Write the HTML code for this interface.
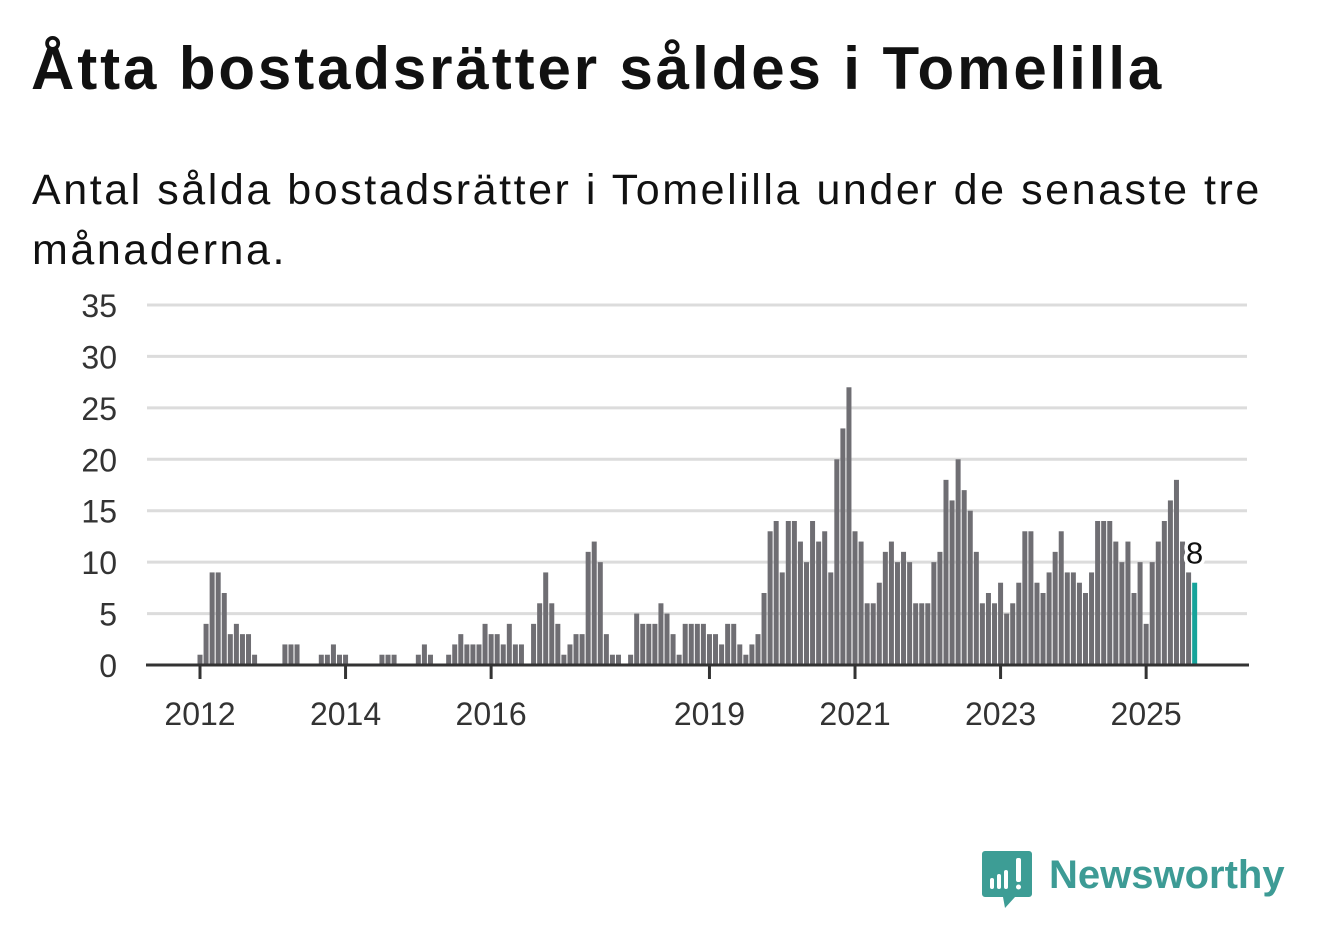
<!DOCTYPE html>
<html><head><meta charset="utf-8"><style>
body{margin:0;background:#fff;width:1322px;height:939px;overflow:hidden;font-family:"Liberation Sans",sans-serif;}
h1{position:absolute;left:31px;top:36px;margin:0;font-size:60px;line-height:66px;font-weight:bold;color:#111;letter-spacing:2.9px;white-space:nowrap}
p{position:absolute;left:32px;top:160px;margin:0;width:1290px;font-size:43px;line-height:60px;color:#111;letter-spacing:2.55px;white-space:nowrap}
svg{position:absolute;left:0;top:0}
</style></head><body>
<h1>Åtta bostadsrätter såldes i Tomelilla</h1>
<p>Antal sålda bostadsrätter i Tomelilla under de senaste tre<br>månaderna.</p>
<svg id="chart" width="1322" height="939"></svg>
<script>
const values=[1,4,9,9,7,3,4,3,3,1,0,0,0,0,2,2,2,0,0,0,1,1,2,1,1,0,0,0,0,0,1,1,1,0,0,0,1,2,1,0,0,
1,2,3,2,2,2,4,3,3,2,4,2,2,0,4,6,9,6,4,1,2,3,3,11,12,10,3,1,1,0,1,5,4,4,4,6,5,3,1,4,4,4,4,3,3,2,4,4,2,1,2,3,7,13,14,9,14,14,12,10,14,12,13,9,20,23,27,13,12,6,6,8,11,12,10,11,10,6,6,6,10,11,18,16,20,17,15,11,6,7,6,8,5,6,8,13,13,8,7,9,11,13,9,9,8,7,9,14,14,14,12,10,12,7,10,4,10,12,14,16,18,12,9,8];
const startYear=2012;
const yTicks=[0,5,10,15,20,25,30,35];
const xTickYears=[2012,2014,2016,2019,2021,2023,2025];
const NS="http://www.w3.org/2000/svg";
const svg=document.getElementById('chart');
const y0=665,pxPerUnit=10.286,x0=200,pxPerMonth=6.065;
const yS=v=>y0-v*pxPerUnit;
const xS=i=>x0+i*pxPerMonth;
function mk(t,a){const e=document.createElementNS(NS,t);for(const k in a)e.setAttribute(k,a[k]);svg.appendChild(e);return e;}
yTicks.forEach(t=>{
  if(t>0){const g=mk('line',{x1:147,x2:1247,y1:yS(t),y2:yS(t),stroke:'#dcdcdc','stroke-width':3});
  
  }
  const l=mk('text',{x:117,y:yS(t)+12,'text-anchor':'end','font-size':32,fill:'#333'});
  l.textContent=t;
  
  
});
values.forEach((v,i)=>{
  const last=i===values.length-1;
  const r=mk('rect',{x:xS(i)-2.5,y:yS(v),width:5,height:v*pxPerUnit,fill:last?'#16a39a':'#6f6e73'});
  
  
});
const ax=mk('line',{x1:146,x2:1249,y1:665,y2:665,stroke:'#333','stroke-width':3});


xTickYears.forEach(yr=>{
  const x=xS((yr-startYear)*12);
  const tk=mk('line',{x1:x,x2:x,y1:665,y2:679,stroke:'#333','stroke-width':3});
  
  
  const l=mk('text',{x:x,y:725,'text-anchor':'middle','font-size':32,fill:'#333'});
  l.textContent=yr;
  
  
});
const li=values.length-1;
const lab=mk('text',{x:xS(li),y:yS(values[li])-19,'text-anchor':'middle','font-size':31,fill:'#111',stroke:'#fff','stroke-width':7,'paint-order':'stroke','stroke-linejoin':'round'});
lab.textContent=values[li];


</script>
<svg width="1322" height="939" style="pointer-events:none">
<path d="M985 851 h44 a3 3 0 0 1 3 3 v40 a3 3 0 0 1 -3 3 h-14 l-10 11 l-2 -11 h-18 a3 3 0 0 1 -3 -3 v-40 a3 3 0 0 1 3 -3z" fill="#3d9d95"/>
<rect x="990" y="878" width="4" height="11" rx="2" fill="#fff"/>
<rect x="997" y="874" width="4" height="15" rx="2" fill="#fff"/>
<rect x="1004" y="870" width="4" height="19" rx="2" fill="#fff"/>
<rect x="1016" y="858" width="5" height="24" rx="2" fill="#fff"/>
<circle cx="1018.5" cy="887" r="2.5" fill="#fff"/>
<text x="1049" y="888" font-size="40" font-weight="bold" fill="#3d9b95" font-family="Liberation Sans, sans-serif">Newsworthy</text>
</svg>
</body></html>
